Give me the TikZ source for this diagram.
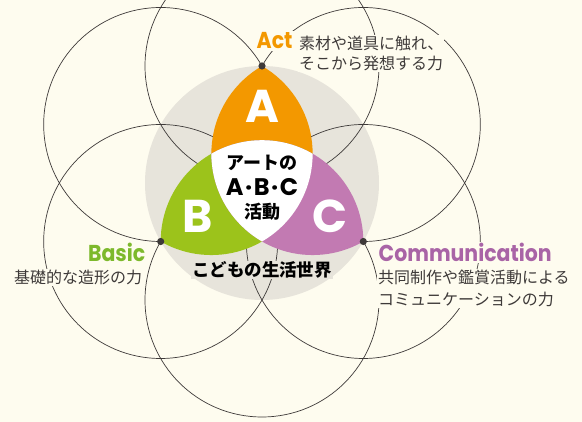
\documentclass[tikz,border=0pt]{standalone}
\usepackage{fontspec}
\setmainfont{Noto Sans CJK JP}
\newfontfamily\geo{Poppins}
\newfontfamily\geonarrow{Poppins}[FakeStretch=0.89]
\usetikzlibrary{calc}
\definecolor{cream}{HTML}{FEFCEF}
\definecolor{sand}{HTML}{E7E4DB}
\definecolor{actorange}{HTML}{F39800}
\definecolor{basicgreen}{HTML}{9CC31B}
\definecolor{commpurple}{HTML}{C27AB2}
\definecolor{basictext}{HTML}{7DB92C}
\definecolor{commtext}{HTML}{A964A6}
\definecolor{ink}{HTML}{3E3A39}
\tikzset{
    petal/.style={draw=ink, line width=0.7pt},
    tag/.style={fill=cream, inner sep=1pt, align=left, text=ink, font=\fontsize{16}{20}\selectfont},
    keyword/.style={fill=cream, inner sep=1.5pt, font=\geonarrow\bfseries\fontsize{23}{26}\selectfont},
    bigletter/.style={text=white, font=\geo\bfseries\fontsize{46}{50}\selectfont},
    middle/.style={text=black, font=\bfseries\fontsize{18}{22}\selectfont},
  }

\begin{document}
\begin{tikzpicture}[x=1pt,y=1pt]
				  %fond
				  \fill[cream] (0,0) rectangle (582,422);
				  \useasboundingbox (0,0) rectangle (582,422);
				  %triangle A B C et milieux
				  \coordinate (O) at (262,239);
				  \coordinate (A) at ($(O)+(90:117pt)$);
				  \coordinate (B) at ($(O)+(210:117pt)$);
				  \coordinate (C) at ($(O)+(330:117pt)$);
				  \coordinate (Mab) at ($(A)!0.5!(B)$);
				  \coordinate (Mbc) at ($(B)!0.5!(C)$);
				  \coordinate (Mca) at ($(C)!0.5!(A)$);
				  \fill[sand] (O) circle[radius=117pt];
				  %fleur de six cercles
				  \foreach \ang in {30,90,...,330}
				    \draw[petal] ($(O)+(\ang:117pt)$) circle[radius=117pt];
				  %lobes
				  \begin{scope}
				    \clip (Mab) circle[radius=101.3pt];
				    \fill[actorange] (Mca) circle[radius=101.3pt];
				  \end{scope}
				  \begin{scope}
				    \clip (Mab) circle[radius=101.3pt];
				    \fill[basicgreen] (Mbc) circle[radius=101.3pt];
				  \end{scope}
				  \begin{scope}
				    \clip (Mbc) circle[radius=101.3pt];
				    \fill[commpurple] (Mca) circle[radius=101.3pt];
				  \end{scope}
				  \begin{scope}
				    \clip (Mab) circle[radius=101.3pt];
				    \clip (Mbc) circle[radius=101.3pt];
				    \fill[white] (Mca) circle[radius=101.3pt];
				  \end{scope}
				  \fill[ink] (A) circle[radius=3.6pt];
				  \fill[ink] (B) circle[radius=3.6pt];
				  \fill[ink] (C) circle[radius=3.6pt];
				  %lettres
				  \node[bigletter] (bigA) at (262,316) {A};
				  \node[bigletter] (bigB) at (197.5,206) {B};
				  \node[bigletter] (bigC) at (330.5,205.5) {C};
				  \node[middle] (art) at (262,259) {アートの};
				  \node[middle, font=\geo\bfseries\fontsize{24}{26}\selectfont] (abc) at (262,235.3) {A\hspace{1.5pt}·\hspace{1.5pt}B\hspace{1.5pt}·\hspace{1.5pt}C};
				  \node[middle] (katsudo) at (262,210.5) {活動};
				  \node[middle, fill=sand, inner sep=1pt, font=\bfseries\fontsize{17.5}{20}\selectfont] (world) at (262,152) {こどもの生活世界};
				  %legendes (ancre = derniere ligne)
				  \node[keyword, text=actorange, anchor=base west] (act) at (255,373) {Act};
				  \node[tag, anchor=base west] (actnote) at (298,352.7) {素材や道具に触れ、\\そこから発想する力};
				  \node[keyword, text=basictext, anchor=base east] (basic) at (147,160.3) {Basic};
				  \node[tag, anchor=base west] (basicnote) at (13,138.5) {基礎的な造形の力};
				  \node[keyword, text=commtext, anchor=base west] (comm) at (377,160.3) {Communication};
				  \node[tag, anchor=base west, font=\fontsize{16}{21.7}\selectfont] (commnote) at (377,116.8) {共同制作や鑑賞活動による\\コミュニケーションの力};
\end{tikzpicture}
\end{document}
